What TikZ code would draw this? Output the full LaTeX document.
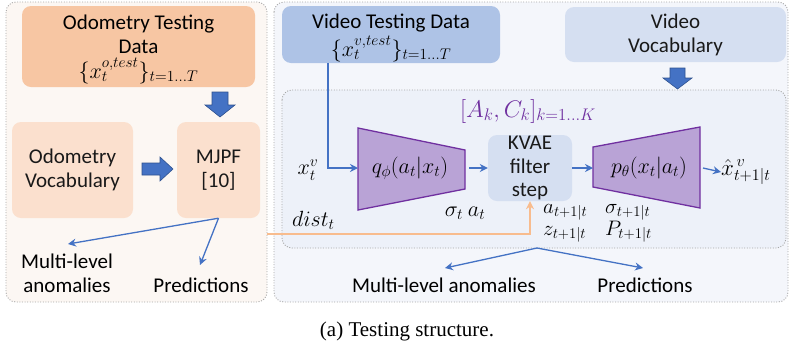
\RequirePackage{fix-cm}
\documentclass[tikz,border=0pt]{standalone}
\usepackage{fontspec}
\setmainfont{Carlito}
\newfontfamily\capfont{Liberation Serif}
\usetikzlibrary{arrows.meta}

\definecolor{leftbg}{HTML}{FCF7F3}
\definecolor{rightbg}{HTML}{F4F6FB}
\definecolor{innerbg}{HTML}{EDF1F9}
\definecolor{odoDark}{HTML}{F7C6A3}
\definecolor{odoLight}{HTML}{FBE0CE}
\definecolor{vidDark}{HTML}{AEC3E6}
\definecolor{vidLight}{HTML}{D5DFF1}
\definecolor{trapFill}{HTML}{B9A3D6}
\definecolor{trapLine}{HTML}{7030A0}
\definecolor{linkBlue}{HTML}{4472C4}
\definecolor{blockEdge}{HTML}{2F528F}
\definecolor{distOrange}{HTML}{F8BC8E}

\begin{document}
\begin{tikzpicture}[x=1pt,y=-1pt,
  font=\fontsize{21}{24}\selectfont,
  panel/.style={draw=black!35, line width=0.9pt, dash pattern=on 1pt off 1.6pt, rounded corners=10pt},
  card/.style={rounded corners=9pt, inner sep=0pt, align=center, text=black!90},
  trapshape/.style={draw=trapLine, fill=trapFill, line width=1.3pt, line join=miter},
  conn/.style={draw=linkBlue, line width=1.3pt, -{Stealth[length=8pt,width=8pt]}},
  distconn/.style={draw=distOrange, line width=1.5pt, -{Stealth[length=8pt,width=8pt]}},
  blockarrow/.style={fill=linkBlue, draw=blockEdge, line width=0.6pt},
  lbl/.style={inner sep=0pt, align=center},
  mathlbl/.style={inner sep=0pt, font=\fontsize{22}{24}\selectfont},
  filterout/.style={inner sep=0pt, anchor=base west, font=\fontsize{21}{23}\selectfont}
]
\useasboundingbox (0,0) rectangle (789,349);

% panels
\draw[panel, fill=leftbg] (6,2) rectangle (267,302);
\draw[panel, fill=rightbg] (274,2) rectangle (788,302);
\draw[panel, fill=innerbg] (282,90) rectangle (786,248);

% odometry side
\node[card, fill=odoDark, minimum width=233pt, minimum height=81pt] (otd) at (138.5,46.5) {};
\node[lbl, anchor=base] (otdT) at (otd.north |- 0,29) {Odometry Testing};
\node[lbl, anchor=base] (otdD) at (otd.north |- 0,53) {Data};
\node[lbl, anchor=base, font=\fontsize{22}{24}\selectfont] (otdF) at (otd.north |- 0,78) {$\{x_t^{o,test}\}_{t=1\ldots T}$};
\node[card, fill=odoLight, minimum width=121pt, minimum height=96pt] (ovoc) at (72.5,170)
  {Odometry\\Vocabulary};
\node[card, fill=odoLight, minimum width=83pt, minimum height=96pt] (mjpf) at (218.5,170)
  {MJPF\\{[10]}};

% block arrows (odometry)
\draw[blockarrow] (212,92) -- (228,92) -- (228,105) -- (235,105) -- (220,117) -- (205,105) -- (212,105) -- cycle;
\draw[blockarrow] (142,163) -- (160,163) -- (160,157) -- (173,169) -- (160,181) -- (160,175) -- (142,175) -- cycle;

\node[lbl] (oanom) at (67,273) {Multi-level\\anomalies};
\node[lbl] (opred) at (201,285) {Predictions};
\coordinate (oanomT) at (68,244);
\coordinate (opredT) at (200,265);
\draw[conn] (mjpf.south) -- (oanomT);
\draw[conn] (mjpf.south) -- (opredT);

% video side
\node[card, fill=vidDark, minimum width=218pt, minimum height=57pt] (vtd) at (391,34.5) {};
\node[lbl, anchor=base] (vtdT) at (vtd.north |- 0,28) {Video Testing Data};
\node[lbl, anchor=base, font=\fontsize{22}{24}\selectfont] (vtdF) at (vtd.north |- 0,56) {$\{x_t^{v,test}\}_{t=1\ldots T}$};
\node[card, fill=vidLight, minimum width=221pt, minimum height=55pt] (vvoc) at (675.5,34.5)
  {Video\\Vocabulary};
\draw[blockarrow] (670,68) -- (685,68) -- (685,78) -- (692,78) -- (677.5,89) -- (663,78) -- (670,78) -- cycle;

\node[lbl, text=trapLine, font=\fontsize{24}{26}\selectfont] (params) at (528,111) {$[A_k, C_k]_{k=1\ldots K}$};

% encoder / decoder
\draw[trapshape] (358,128) -- (465,150) -- (465,189) -- (358,210) -- cycle;
\node[mathlbl] (enc) at (410,168) {$q_\phi(a_t|x_t)$};
\node[card, fill=vidLight, minimum width=84pt, minimum height=66pt, font=\fontsize{21}{23.5}\selectfont] (kvae) at (530,168)
  {KVAE\\filter\\step};
\draw[trapshape] (593,147) -- (700,127) -- (700,208) -- (593,187) -- cycle;
\node[mathlbl] (dec) at (649,168) {$p_\theta(x_t|a_t)$};

\node[mathlbl] (xin) at (308,170) {$x_t^v$};
\node[mathlbl, anchor=west, font=\fontsize{23}{25}\selectfont] (xout) at (721,172) {$\hat{x}^{\,v}_{t+1|t}$};

\coordinate (encW) at (358,168);
\coordinate (encE) at (469,168);
\coordinate (decW) at (593,168);
\coordinate (decE) at (703,168);
\coordinate (vtdS) at (328,63);
\draw[conn] (vtdS) |- (encW);
\draw[conn] (encE) -- (kvae.west);
\draw[conn] (kvae.east) -- (decW);
\draw[conn] (decE) -- (xout.west);

% filter outputs
\node[mathlbl, anchor=base] (sa) at (465,216) {$\sigma_t\ a_t$};
\node[filterout] (apred) at (543,213) {$a_{t+1|t}$};
\node[filterout] (spred) at (605,213) {$\sigma_{t+1|t}$};
\node[filterout] (zpred) at (543,235) {$z_{t+1|t}$};
\node[filterout] (Ppred) at (605,235) {$P_{t+1|t}$};

% distance from odometry branch
\node[mathlbl, anchor=base west] (dist) at (292,226) {$dist_t$};
\coordinate (distS) at (267,234);
\draw[distconn] (distS) -| (kvae.south);

% video outcomes
\coordinate (vsplit) at (537,248);
\coordinate (vanomT) at (445,268);
\coordinate (vpredT) at (643,268);
\draw[conn] (vsplit) -- (vanomT);
\draw[conn] (vsplit) -- (vpredT);
\node[lbl] (vanom) at (444,285) {Multi-level anomalies};
\node[lbl] (vpred) at (645,285) {Predictions};

% caption
\node[lbl, font=\capfont\fontsize{21}{24}\selectfont] (cap) at (407,331) {(a) Testing structure.};
\end{tikzpicture}
\end{document}
